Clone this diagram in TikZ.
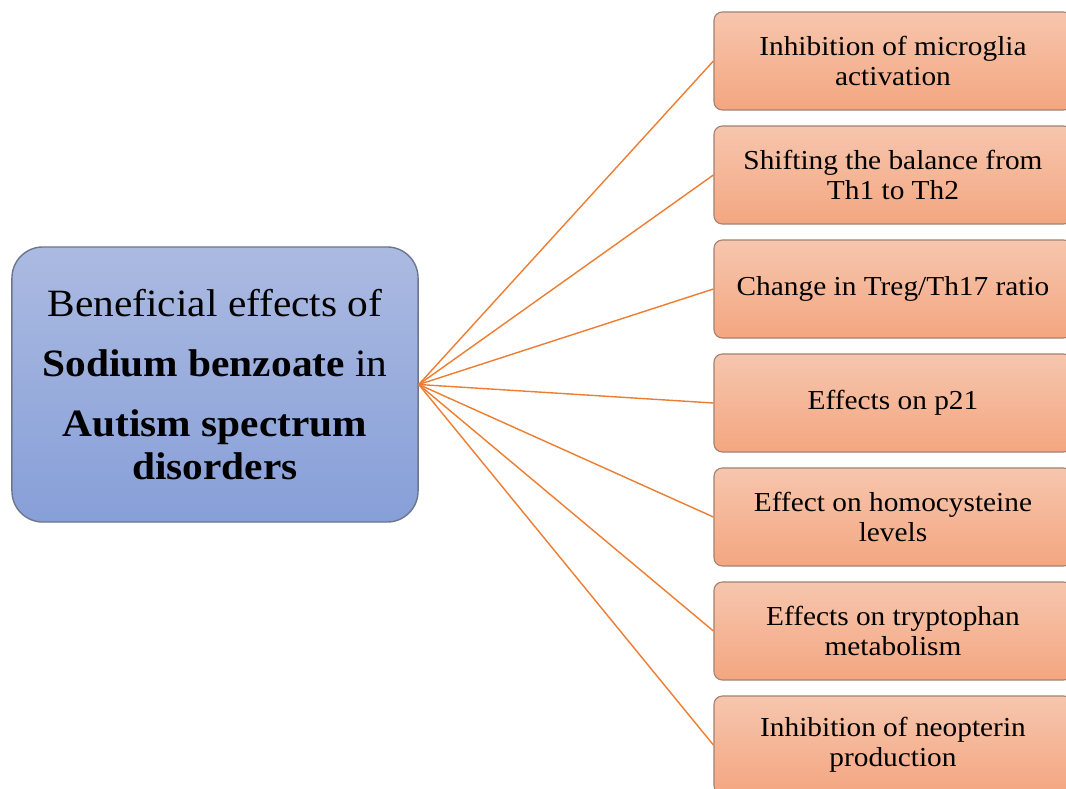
\documentclass[tikz,border=0pt]{standalone}
\usepackage{fontspec}
\setmainfont{Liberation Serif}[FakeStretch=1.07]
\usetikzlibrary{positioning}
\definecolor{slate}{RGB}{108,118,140}
\definecolor{skytop}{RGB}{171,186,225}
\definecolor{skybot}{RGB}{135,159,216}
\definecolor{peachtop}{RGB}{246,198,174}
\definecolor{peachbot}{RGB}{244,166,128}
\definecolor{clay}{RGB}{165,130,112}
\definecolor{tangerine}{RGB}{237,125,49}
\tikzset{
  hub/.style={draw=slate,line width=1pt,top color=skytop,bottom color=skybot,
    rounded corners=22pt,minimum width=10.15cm,minimum height=6.875cm,
    align=center,font=\fontsize{27.5}{30.6}\selectfont},
  effect/.style={draw=clay,line width=0.8pt,top color=peachtop,bottom color=peachbot,
    rounded corners=6pt,minimum width=8.95cm,minimum height=2.45cm,
    align=center,font=\fontsize{19.5}{21.3}\selectfont},
  spoke/.style={draw=tangerine,line width=1pt},
}
\begin{document}
\begin{tikzpicture}[x=0.025cm,y=-0.025cm]
    \useasboundingbox (0,0) rectangle (1066,789);
    \clip (0,0) rectangle (1066,789);
    \node[hub] (hub) at (215,384.5) {Beneficial effects of\\[0.42cm]
      \textbf{Sodium benzoate} in\\[0.42cm]\textbf{Autism spectrum}\\\textbf{disorders}};
    \node[effect] (e1) at (893,61)  {Inhibition of microglia\\activation};
    \node[effect] (e2) at (893,175) {Shifting the balance from\\Th1 to Th2};
    \node[effect] (e3) at (893,289) {Change in Treg/Th17 ratio};
    \node[effect] (e4) at (893,403) {Effects on p21};
    \node[effect] (e5) at (893,517) {Effect on homocysteine\\levels};
    \node[effect] (e6) at (893,631) {Effects on tryptophan\\metabolism};
    \node[effect] (e7) at (893,745) {Inhibition of neopterin\\production};
    \foreach \n in {e1,e2,e3,e4,e5,e6,e7} \draw[spoke] (hub.east) -- (\n.west);
\end{tikzpicture}
\end{document}
